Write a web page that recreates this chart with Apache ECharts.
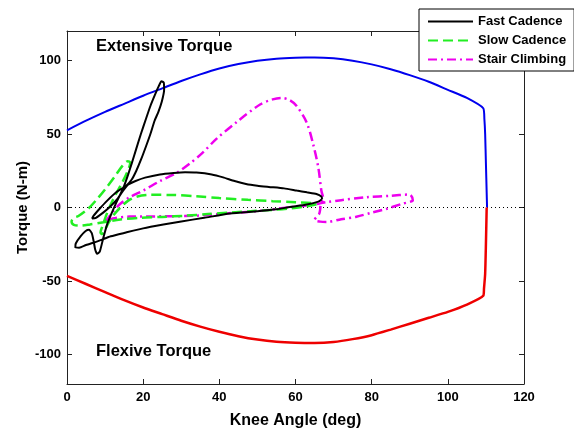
<!DOCTYPE html>
<html>
<head>
<meta charset="utf-8">
<script src="https://cdn.jsdelivr.net/npm/echarts@6/dist/echarts.min.js"></script>
<style>html,body{margin:0;padding:0;background:#fff}#c{width:574px;height:434px}</style>
</head>
<body>
<div id="c"></div>
<script>
const xTickValues = [0, 20, 40, 60, 80, 100, 120];
const yTickValues = [-100, -50, 0, 50, 100];
const seriesNames = ['Fast Cadence', 'Slow Cadence', 'Stair Climbing'];

// Extensive torque limit (upper, blue)
const extensiveLimit = [[0,52.5],[5,59],[10,65],[15,70.5],[20,76],[25,81],[30,86],[35,90.5],[40,94.5],[45,97.5],[50,99.8],[55,101.2],[60,101.8],[65,102],[70,101.4],[75,99.8],[80,97.3],[85,94],[90,90],[95,85.5],[100,80],[105,74.5],[109.3,67.5],[109.6,60],[109.8,50],[110,30],[110.2,10],[110.3,0]];
// Flexive torque limit (lower, red)
const flexiveLimit = [[0,-46.5],[5,-52],[10,-57.5],[15,-63],[20,-68],[25,-72.5],[30,-77],[35,-81],[40,-84.5],[45,-87.5],[50,-89.8],[55,-91.3],[60,-92],[65,-92.2],[70,-91.5],[75,-89.5],[80,-86.8],[85,-83],[90,-79],[95,-75],[100,-71],[105,-66],[109.3,-60],[109.5,-55],[109.8,-45],[110,-25],[110.2,0]];

const fastCadence = [
[67,5.8],[66,4],[63,2],[58.5,0.3],[55,-1.2],[50,-2.5],[42.8,-4.1],[36,-7],[30,-9.5],[25.3,-11.6],[20,-14.2],[15.5,-17],[11.5,-19.6],[8,-23],[5,-25.5],[3.2,-27.3],[2.2,-27.2],
[2.3,-24.5],[3.6,-19.5],[4.9,-16],[5.8,-15.2],[6.5,-17.5],[7,-23],[7.4,-28.5],[7.9,-31.5],[8.6,-30],[9.5,-21],[10.6,-11],[11.7,-4],[12.8,2.5],[14,9],[15,14.7],[16,22],[17,30],[18.2,40],[19.4,50],[20.7,60],[21.9,69],[23,76],[24,82],[24.8,85.8],
[25.4,85],[25.5,80],[24.9,72],[24,65],[23,59],[21.9,50],[20.8,42],[19.5,33],[18.2,25],[17,19],[15.6,15],
[13,10.5],[10.5,4.5],[8.5,-1],[7,-5.5],[6.6,-7.4],[7.6,-7],[9.5,-3.5],[11.5,1],[13.3,6],[14.6,11],
[16,15.5],[18,18],[20.5,20.3],[24.4,22.5],[28,23.5],[31,24],[34,23.8],[38,22.5],[41,20.5],[44,18],[47,16],[50,14.8],[53,14],[57,13],[60.3,11.5],[63,10.3],[65.5,9.2],[66.8,7.5],[67,5.8]
];

const slowCadence = [
[65.5,2.2],[63,0.8],[59,-0.6],[54,-1.6],[49,-2.4],[43,-3.4],[37,-4.5],[31,-5.6],[25,-6.4],[19,-7],[14,-8.2],[10,-9.8],[6,-11.5],[3.5,-12.3],[1.8,-11.8],[1.2,-9.5],[1.8,-7],[3,-5.8],
[5.5,-1],[8,6],[10.5,14],[12.8,22],[14.6,28.5],[16,31.5],[16.6,30.5],[15.8,24],[14.3,16],[12.8,9],[11.3,1],[10.2,-6],[9.4,-12],[8.8,-17],[9.2,-18],[10,-15],[11,-10],[12.3,-5],[14,0],[16,4.5],[18.5,7.5],[22,8.6],[28,8.5],[34,7.6],[40,6.4],[47.5,5.2],[54,4.3],[60,3.6],[64,3],[65.5,2.2]
];

const stairClimbing = [
[10,-10],[12,-3],[14,2.5],[16.5,7],[20,11.5],[24.4,18],[28.8,23.6],[32.3,30],[35.5,37],[39.3,46.8],[44.5,58],[50.7,70],[54,73.5],[56.3,74.5],[58.5,73],[60.3,69],[62.9,58],[64.7,42.4],[66,27],[66.8,11.4],[67.3,5.8],[66.6,2.5],[66.5,-1],[66.2,-4.4],[65,-8.5],[66.5,-9.6],[68.2,-9.8],[72,-8],[76,-6.3],[80,-3.5],[84,-0.8],[88,2.5],[90.8,5],[90,8.8],[85,8],[78.7,7],[72,5],[68.5,3.8],[66,2.6],[63,1.4],[58,0],[50.6,-2.3],[42,-4],[34,-5.6],[25,-6],[16.5,-6.2],[12,-7.5],[10,-10]
];

const zeroLine = [[0,0],[120,0]];

const chart = echarts.init(document.getElementById('c'), null, {renderer: 'canvas'});
const FONT = 'Liberation Sans, Arial, sans-serif';
const axisCommon = {
  axisLine: {show: true, onZero: false, lineStyle: {color: '#222', width: 1}},
  axisTick: {show: true, inside: true, length: 5, lineStyle: {color: '#222'}},
  splitLine: {show: false}
};
chart.setOption({
  animation: false,
  backgroundColor: '#fff',
  grid: {left: 67, right: 50, top: 31, bottom: 45},
  xAxis: [
    Object.assign({}, axisCommon, {
      type: 'value', min: 0, max: 120, interval: 20, position: 'bottom',
      name: 'Knee Angle (deg)', nameLocation: 'middle', nameGap: 29, nameMoveOverlap: false,
      nameTextStyle: {fontFamily: FONT, fontWeight: 'bold', fontSize: 16, color: '#000'},
      axisLabel: {fontFamily: FONT, fontWeight: 'bold', fontSize: 13, color: '#000', margin: 7}
    }),
    Object.assign({}, axisCommon, {
      type: 'value', min: 0, max: 120, interval: 20, position: 'top',
      axisLabel: {show: false}
    })
  ],
  yAxis: [
    Object.assign({}, axisCommon, {
      type: 'value', min: -120, max: 120, position: 'left',
      axisTick: {show: true, inside: true, length: 5, lineStyle: {color: '#222'}, customValues: yTickValues},
      axisLabel: {fontFamily: FONT, fontWeight: 'bold', fontSize: 13, color: '#000', margin: 6, customValues: yTickValues},
      name: 'Torque (N-m)', nameLocation: 'middle', nameGap: 37, nameMoveOverlap: false,
      nameTextStyle: {fontFamily: FONT, fontWeight: 'bold', fontSize: 15, color: '#000'}
    }),
    Object.assign({}, axisCommon, {
      type: 'value', min: -120, max: 120, position: 'right',
      axisTick: {show: true, inside: true, length: 5, lineStyle: {color: '#222'}, customValues: yTickValues},
      axisLabel: {show: false}
    })
  ],
  legend: {
    data: seriesNames,
    orient: 'vertical', left: 419, top: 9,
    itemWidth: 45, itemHeight: 14, itemGap: 6,
    padding: [6, 8, 5, 8],
    borderColor: '#000', borderWidth: 1, backgroundColor: '#fff',
    itemStyle: {opacity: 0},
    textStyle: {fontFamily: FONT, fontWeight: 'bold', fontSize: 13, color: '#000'}
  },
  graphic: [
    {type: 'text', left: 96, top: 38, style: {text: 'Extensive Torque', font: 'bold 16.5px ' + FONT, fill: '#000'}},
    {type: 'text', left: 96, top: 343, style: {text: 'Flexive Torque', font: 'bold 16.5px ' + FONT, fill: '#000'}}
  ],
  series: [
    {name: 'zero', type: 'line', data: zeroLine, symbol: 'none', silent: true,
     lineStyle: {color: '#000', width: 1, type: [1, 3]}},
    {name: 'Extensive Limit', type: 'line', data: extensiveLimit, symbol: 'none', smooth: 0.2,
     lineStyle: {color: '#0000ee', width: 2}},
    {name: 'Flexive Limit', type: 'line', data: flexiveLimit, symbol: 'none', smooth: 0.2,
     lineStyle: {color: '#ee0000', width: 2.5}},
    {name: 'Stair Climbing', type: 'line', data: stairClimbing, symbol: 'none', smooth: 0.3,
     itemStyle: {color: '#ee00ee'},
     lineStyle: {color: '#ee00ee', width: 2.5, type: [9, 4, 2, 4]}},
    {name: 'Slow Cadence', type: 'line', data: slowCadence, symbol: 'none', smooth: 0.3,
     itemStyle: {color: '#22ee22'},
     lineStyle: {color: '#22ee22', width: 2.5, type: [10, 5]}},
    {name: 'Fast Cadence', type: 'line', data: fastCadence, symbol: 'none', smooth: 0.2,
     itemStyle: {color: '#000'},
     lineStyle: {color: '#000', width: 2}}
  ]
});
</script>
</body>
</html>
